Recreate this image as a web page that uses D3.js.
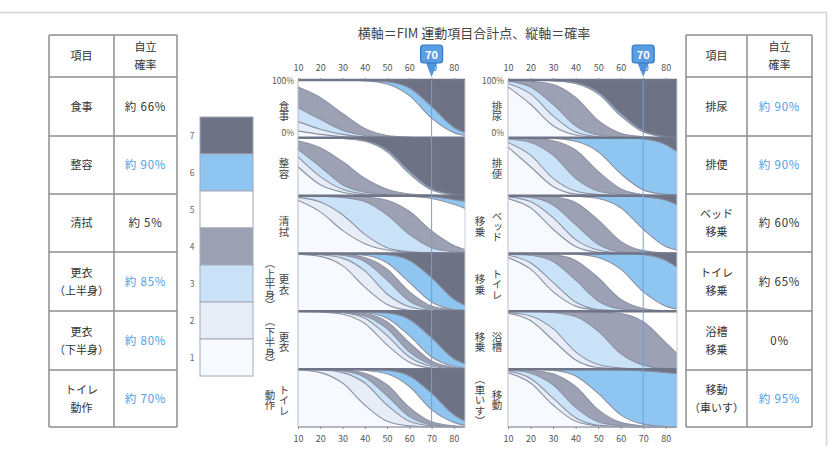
<!DOCTYPE html>
<html><head><meta charset="utf-8">
<script src="https://cdn.jsdelivr.net/npm/d3@7"></script>
<style>
body{margin:0;background:#fff}
svg{display:block}
text{font-family:"Noto Sans CJK JP","Noto Sans",sans-serif}
</style>
</head><body>
<svg id="c" width="835" height="452"></svg>
<script>
// ---------------- data ----------------
const xGrid = [10,20,30,40,50,60,70,80,85];
const xTicks = [10,20,30,40,50,60,70,80];
const markScore = 70;
const levelLabels = [1,2,3,4,5,6,7];

const leftItems  = ["食事","整容","清拭","更衣（上半身）","更衣（下半身）","トイレ動作"];
const rightItems = ["排尿","排便","ベッド移乗","トイレ移乗","浴槽移乗","移動（車いす）"];
const leftNameLines  = [["食事"],["整容"],["清拭"],["更衣","（上半身）"],["更衣","（下半身）"],["トイレ","動作"]];
const rightNameLines = [["排尿"],["排便"],["ベッド","移乗"],["トイレ","移乗"],["浴槽","移乗"],["移動","（車いす）"]];
const leftIndependence  = [66,90,5,85,80,70];
const rightIndependence = [90,90,60,65,0,95];

// cumulative boundaries P(level<=k) in %, k=1..6, at xGrid
const shokuji = [
 [12,6,2,1,0,0,0,0,0],[28,15,6,2,1,0,0,0,0],[52,32,13,4,1,0,0,0,0],
 [88,70,42,16,4,1,0,0,0],[100,100,100,99,93,73,34,9,4],[100,100,100,99,97,86,54,18,9]];
const seiyou = [
 [50,19,6,1,0,0,0,0,0],[67,33,11,3,1,0,0,0,0],[80,50,19,6,2,0,0,0,0],
 [95,83,59,30,11,3,1,0,0],[100,100,99,94,76,38,10,2,1],[100,100,99,95,79,42,12,2,1]];
const seishiki = [
 [92,72,40,17,6,2,1,0,0],[97,89,67,33,10,3,1,0,0],[100,99,97,90,67,33,10,3,1],
 [100,100,100,98,92,73,39,14,7],[100,100,100,100,100,99,95,85,78],[100,100,100,100,100,100,98,93,90]];
const kouiUpper = [
 [99,95,79,42,12,2,0,0,0],[100,98,92,70,30,8,2,0,0],[100,99,97,86,54,18,4,1,0],
 [100,100,99,93,73,34,9,2,1],[100,100,99,97,84,50,16,3,2],[100,100,100,100,98,88,58,21,10]];
const kouiLower = [
 [100,99,95,79,42,12,2,0,0],[100,100,98,88,58,21,5,1,0],[100,100,98,92,70,30,8,2,1],
 [100,100,99,96,82,46,14,3,1],[100,100,100,98,88,58,21,5,2],[100,100,100,99,97,86,54,18,9]];
const toiletAct = [
 [99,94,76,38,10,2,0,0,0],[100,99,94,76,38,10,2,0,0],[100,99,97,86,54,18,4,1,0],
 [100,100,99,93,73,34,9,2,1],[100,100,100,98,92,70,30,8,3],[100,100,100,100,98,88,58,21,10]];
const hainyou = [
 [88,58,21,5,1,0,0,0,0],[94,76,38,10,2,0,0,0,0],[98,88,58,21,5,1,0,0,0],
 [100,98,92,70,30,8,2,0,0],[100,100,99,94,76,38,10,2,1],[100,100,99,95,79,42,12,2,1]];
const haiben = [
 [84,50,16,3,1,0,0,0,0],[92,70,30,8,2,0,0,0,0],[98,92,70,30,8,2,0,0,0],
 [100,99,95,79,42,12,2,0,0],[100,100,99,94,76,38,10,2,1],[100,100,100,100,100,100,98,88,76]];
const bedTransfer = [
 [95,79,42,12,2,0,0,0,0],[98,90,62,24,6,1,0,0,0],[99,97,84,50,16,3,1,0,0],
 [100,100,98,88,58,21,5,1,0],[100,100,100,99,95,79,42,12,6],[100,100,100,100,100,100,98,92,84]];
const toiletTransfer = [
 [93,73,34,9,2,0,0,0,0],[97,84,50,16,3,1,0,0,0],[99,97,86,54,18,4,1,0,0],
 [100,100,98,88,58,21,5,1,0],[100,100,100,99,93,73,34,9,4],[100,100,100,100,100,100,98,88,76]];
const bathTransfer = [
 [97,84,50,16,3,1,0,0,0],[98,92,70,30,8,2,0,0,0],[100,100,98,91,66,27,7,1,1],
 [100,100,100,100,99,96,82,46,27],[100,100,100,100,100,100,100,100,100],[100,100,100,100,100,100,100,100,100]];
const wheelchair = [
 [94,76,38,10,2,0,0,0,0],[97,84,50,16,3,1,0,0,0],[99,93,73,34,9,2,0,0,0],
 [100,98,92,70,30,8,2,0,0],[100,100,98,88,58,21,5,1,0],[100,100,100,100,100,99,97,94,92]];

const leftData  = [shokuji, seiyou, seishiki, kouiUpper, kouiLower, toiletAct];
const rightData = [hainyou, haiben, bedTransfer, toiletTransfer, bathTransfer, wheelchair];

// ---------------- styles ----------------
const levelColors = ["#f6faff","#e6edf7","#c9e2f7","#9ca1b3","#ffffff","#8ec5f1","#6d7284"];
const boundColor = "#8b90a3";
const sepColor = "#6f7486";
const blueText = "#4da0e6";

const svg = d3.select("#c");
svg.append("rect").attr("width",835).attr("height",452).attr("fill","#fff");
// outer frame
svg.append("path").attr("d","M0,12.5H826.5V446").attr("fill","none").attr("stroke","#d4d4d4").attr("stroke-width",1.5);

// title
svg.append("text").attr("x",474).attr("y",38).attr("text-anchor","middle")
  .attr("font-size",13).attr("fill","#444").text("横軸＝FIM 運動項目合計点、縦軸＝確率");

// ---------------- panels ----------------
const pTop = 80, pBottom = 427, nP = 6, ph = (pBottom-pTop)/nP;
const columns = [
  {data:leftData, names:leftNameLines, x0:298, x1:465, lx:[284,270]},
  {data:rightData, names:rightNameLines, x0:508, x1:677, lx:[497,480]}
];

columns.forEach(col=>{
  const x = d3.scaleLinear().domain([10,85]).range([col.x0,col.x1]);
  const g = svg.append("g");
  col.data.forEach((bounds,i)=>{
    const yTop = pTop + i*ph;
    const y = d3.scaleLinear().domain([0,100]).range([yTop+ph, yTop]);
    const stack = [xGrid.map(()=>0), ...bounds, xGrid.map(()=>100)];
    for(let k=0;k<7;k++){
      const area = d3.area()
        .x((d,j)=>x(xGrid[j]))
        .y0((d,j)=>y(stack[k][j]))
        .y1((d,j)=>y(stack[k+1][j]))
        .curve(d3.curveMonotoneX);
      g.append("path").attr("d",area(xGrid)).attr("fill",levelColors[k]);
    }
    bounds.forEach(b=>{
      const line = d3.line().x((d,j)=>x(xGrid[j])).y(d=>y(d)).curve(d3.curveMonotoneX);
      g.append("path").attr("d",line(b)).attr("fill","none").attr("stroke",boundColor).attr("stroke-width",1.1);
    });
    // separator (top border of each panel)
    g.append("line").attr("x1",col.x0).attr("x2",col.x1).attr("y1",yTop).attr("y2",yTop)
      .attr("stroke",sepColor).attr("stroke-width",2.5);
    // vertical labels
    const cy = yTop + ph/2 + 2;
    col.names[i].forEach((t,c)=>{
      g.append("text").attr("x",col.lx[c]).attr("y",cy)
        .attr("text-anchor","middle").attr("font-size",10.5).attr("fill","#444")
        .style("writing-mode","vertical-rl").text(t);
    });
  });
  // frame lines
  g.append("line").attr("x1",col.x0).attr("x2",col.x1).attr("y1",pBottom).attr("y2",pBottom)
    .attr("stroke","#9da1b0").attr("stroke-width",1.5);
  g.append("line").attr("x1",col.x0).attr("x2",col.x0).attr("y1",pTop).attr("y2",pBottom)
    .attr("stroke","#b8bcc8").attr("stroke-width",1);
  g.append("line").attr("x1",col.x1).attr("x2",col.x1).attr("y1",pTop).attr("y2",pBottom)
    .attr("stroke","#c8ccd6").attr("stroke-width",1);
  // axes
  const axTop = d3.axisTop(x).tickValues(xTicks).tickSize(2).tickPadding(7);
  const axBot = d3.axisBottom(x).tickValues(xTicks).tickSize(2).tickPadding(7);
  const at = svg.append("g").attr("transform",`translate(0,${pTop})`).call(axTop);
  const ab = svg.append("g").attr("transform",`translate(0,${pBottom})`).call(axBot);
  [at,ab].forEach(a=>{
    a.select(".domain").remove();
    a.selectAll("line").attr("stroke","#888");
    a.selectAll("text").attr("font-size",9).attr("fill","#555")
      .attr("font-family","'Liberation Sans',Arial,sans-serif");
  });
  // y labels
  svg.append("text").attr("x",col.x0-4).attr("y",pTop+4).attr("text-anchor","end")
    .attr("font-size",8.5).attr("fill","#555").attr("font-family","'Liberation Sans',Arial,sans-serif").text("100%");
  svg.append("text").attr("x",col.x0-4).attr("y",pTop+ph-2).attr("text-anchor","end")
    .attr("font-size",8.5).attr("fill","#555").attr("font-family","'Liberation Sans',Arial,sans-serif").text("0%");
  // marker line at 70
  const mx = x(markScore);
  svg.append("line").attr("x1",mx).attr("x2",mx).attr("y1",pTop).attr("y2",pBottom)
    .attr("stroke","#62a6e4").attr("stroke-width",1);
  svg.append("path").attr("d",`M${mx-6},62L${mx+6},62L${mx},77Z`).attr("fill","#4f95db");
  svg.append("rect").attr("x",mx-11).attr("y",45).attr("width",22).attr("height",18).attr("rx",3)
    .attr("fill","#5a9de0").attr("stroke","#3277c4").attr("stroke-width",1.2);
  svg.append("text").attr("x",mx).attr("y",58.5).attr("text-anchor","middle").attr("font-size",11)
    .attr("font-weight","bold").attr("fill","#fff").attr("font-family","'Liberation Sans',Arial,sans-serif")
    .text(markScore);
});

// ---------------- legend bar ----------------
const legX = 200, legW = 53, legTop = 117, legH = 37;
const lg = svg.append("g");
levelLabels.slice().reverse().forEach((lv,i)=>{
  const yy = legTop + i*legH;
  lg.append("rect").attr("x",legX).attr("y",yy).attr("width",legW).attr("height",legH)
    .attr("fill",levelColors[lv-1]).attr("stroke","#a3a8b8").attr("stroke-width",1);
  lg.append("text").attr("x",legX-8).attr("y",yy+legH/2+3).attr("text-anchor","middle")
    .attr("font-size",8.5).attr("fill","#666").attr("font-family","'Liberation Sans',Arial,sans-serif").text(lv);
});

// ---------------- tables ----------------
function drawTable(xs, rowsY, names, vals){
  const t = svg.append("g");
  const stroke = "#8e8e8e";
  rowsY.forEach(yy=>t.append("line").attr("x1",xs[0]).attr("x2",xs[2]).attr("y1",yy).attr("y2",yy)
    .attr("stroke",stroke).attr("stroke-width",1.5));
  xs.forEach(xx=>t.append("line").attr("x1",xx).attr("x2",xx).attr("y1",rowsY[0]).attr("y2",rowsY[rowsY.length-1])
    .attr("stroke",stroke).attr("stroke-width",1.5));
  const cx1 = (xs[0]+xs[1])/2, cx2 = (xs[1]+xs[2])/2;
  const lh = 18;
  function cell(cx, y0, y1, lines, color, fs, ls){
    const cy = (y0+y1)/2;
    lines.forEach((s,k)=>{
      t.append("text").attr("x",cx).attr("y",cy + (k-(lines.length-1)/2)*lh + 4)
        .attr("text-anchor","middle").attr("font-size",fs).attr("letter-spacing",ls)
        .attr("fill",color).text(s);
    });
  }
  cell(cx1,rowsY[0],rowsY[1],["項目"],"#333",11,0);
  cell(cx2,rowsY[0],rowsY[1],["自立","確率"],"#333",11,0);
  names.forEach((nm,i)=>{
    cell(cx1,rowsY[i+1],rowsY[i+2],nm,"#333",11,0);
    const v = vals[i];
    const label = v===0 ? "0%" : "約 "+v+"%";
    cell(cx2,rowsY[i+1],rowsY[i+2],[label], v>=70 ? blueText : "#333",11.5,0.8);
  });
}
const tableRows = [35,77,136,194,252,311,370,427];
drawTable([49,114,177], tableRows, leftNameLines, leftIndependence);
drawTable([686,747,812], tableRows, rightNameLines, rightIndependence);
</script>
</body></html>
